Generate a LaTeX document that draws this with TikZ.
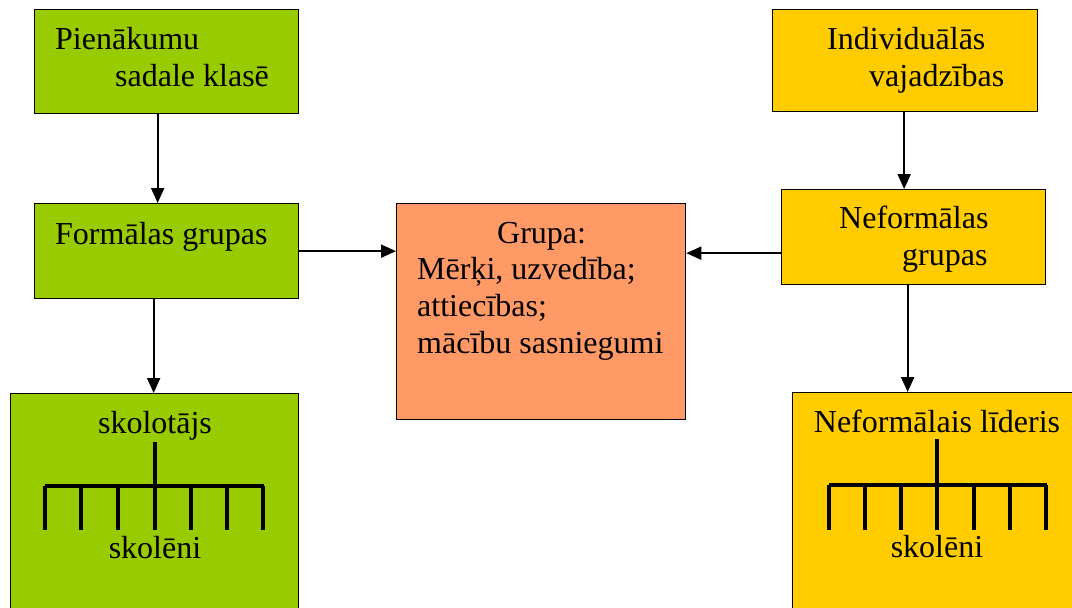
\documentclass[tikz,border=0pt]{standalone}
\usepackage{fontspec}
\setmainfont{Liberation Serif}
\usetikzlibrary{arrows.meta}
\definecolor{leaf}{HTML}{99CC00}
\definecolor{gold}{HTML}{FFCC00}
\definecolor{salmon}{HTML}{FF9966}
\tikzset{
  box/.style={draw=black, line width=1.3pt, minimum width=#1, anchor=north west, inner sep=0pt},
  gbox/.style={box=264, fill=leaf},
  ybox/.style={box=264, fill=gold},
  txt/.style={inner sep=0pt, anchor=base west, font=\fontsize{32}{36}\selectfont},
  ctxt/.style={inner sep=0pt, anchor=base, font=\fontsize{32}{36}\selectfont},
  arr/.style={line width=2pt, -{Triangle[length=15pt,width=13pt]}},
  tree/.style={line width=4pt}
}
\begin{document}
\begin{tikzpicture}[x=1pt,y=-1pt]
\clip (0,0) rectangle (1072,608);
\fill[white] (0,0) rectangle (1072,608);

% left column: formal groups
\node[gbox, minimum height=104] (b1) at (34,9) {};
\node[txt] (t1a) at (55,49) {Pienākumu};
\node[txt] (t1b) at (115,86) {sadale klasē};

\node[gbox, minimum height=95] (b2) at (34,203) {};
\node[txt] (t2) at (55,244) {Formālas grupas};

\node[box=288, fill=leaf, minimum height=240] (b3) at (10,393) {};
\node[ctxt] (t3a) at (155,433) {skolotājs};
\node[ctxt] (t3b) at (155,558) {skolēni};
\draw[tree] (155,442) -- (155,486);
\draw[tree] (45,486) -- (264,486);
\foreach \x in {45,81,118,155,191,227,263}
  \draw[tree] (\x,486) -- (\x,530);

% centre: the group
\node[box=289, fill=salmon, minimum height=216] (grp) at (396,203) {};
\node[txt] (g0) at (497,243) {Grupa:};
\node[txt] (g1) at (417,279) {Mērķi, uzvedība;};
\node[txt] (g2) at (417,316) {attiecības;};
\node[txt] (g3) at (417,353) {mācību sasniegumi};

% right column: informal groups
\node[box=265, fill=gold, minimum height=102] (b4) at (772,9) {};
\node[txt] (t4a) at (827,49) {Individuālās};
\node[txt] (t4b) at (869,86) {vajadzības};

\node[ybox, minimum height=95] (b5) at (781,189) {};
\node[txt] (t5a) at (839,228) {Neformālas};
\node[txt] (t5b) at (902,265) {grupas};

\node[box=300, fill=gold, minimum height=240] (b6) at (792,392) {};
\node[ctxt] (t6a) at (937,432) {Neformālais līderis};
\node[ctxt] (t6b) at (937,557) {skolēni};
\draw[tree] (937,439) -- (937,485);
\draw[tree] (829,485) -- (1047,485);
\foreach \x in {829,865,901,937,974,1010,1046}
  \draw[tree] (\x,485) -- (\x,530);

% connectors
\coordinate (nfout) at ([yshift=-16pt]b5.west);
\coordinate (fdown) at ([xshift=-13pt]b2.south);
\draw[arr] ([xshift=-9pt]b1.south) -- ([xshift=-9pt]b2.north);
\draw[arr] (fdown) -- (fdown |- b3.north);
\draw[arr] (b2.east) -- (grp.west |- b2.east);
\draw[arr] (nfout) -- (grp.east |- nfout);
\draw[arr] ([xshift=-1pt]b4.south) -- ([xshift=-1pt]b4.south |- b5.north);
\draw[arr] ([xshift=-6pt]b5.south) -- ([xshift=-6pt]b5.south |- b6.north);
\end{tikzpicture}
\end{document}
